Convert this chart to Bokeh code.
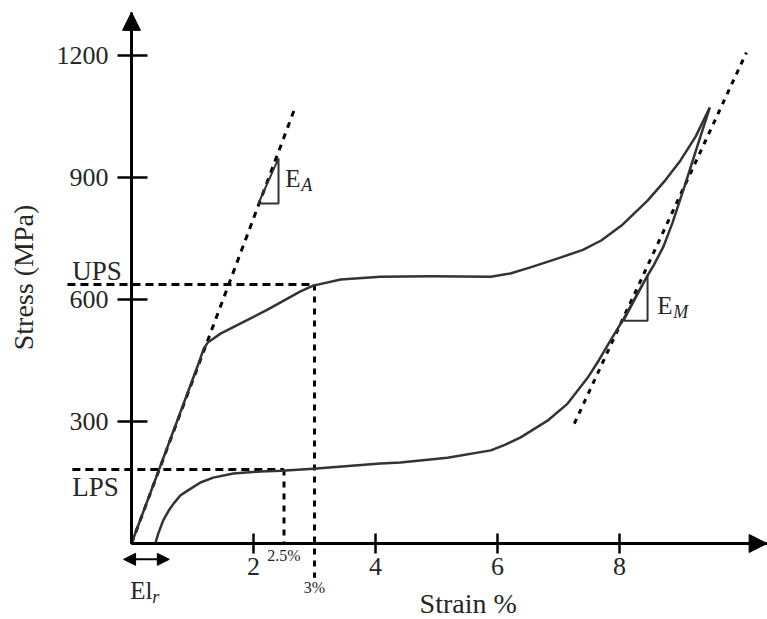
from bokeh.plotting import figure
from bokeh.models import LinearAxis, FixedTicker, Arrow, NormalHead, Range1d, Label
from bokeh.embed import file_html
from bokeh.resources import INLINE

# ---- data (strain %, stress MPa) ----
load_strain = [0.0, 1.13, 1.18, 1.25, 1.46, 1.79, 2.23, 2.77, 2.98, 3.43, 4.08, 4.9, 5.89,
               6.21, 6.54, 7.03, 7.4, 7.7, 8.05, 8.46, 8.75, 9.0, 9.25, 9.48]
load_stress = [0, 455, 478, 494, 516, 541, 575, 620, 634, 649, 656, 657, 656,
               664, 679, 703, 722, 745, 784, 843, 893, 942, 1001, 1072]

unload_strain = [9.48, 9.28, 9.07, 8.87, 8.72, 8.56, 8.46, 8.26, 8.07, 7.85, 7.66, 7.48, 7.15,
                 6.82, 6.38, 6.13, 5.89, 5.18, 4.41, 4.08, 2.98, 2.46, 2.11, 1.67, 1.34, 1.13,
                 0.92, 0.8, 0.69, 0.61, 0.52, 0.44, 0.39]
unload_stress = [1072, 979, 880, 789, 730, 684, 659, 605, 553, 499, 450, 408, 344,
                 302, 261, 243, 229, 211, 199, 197, 184, 179, 177, 172, 162, 150,
                 130, 118, 98, 81, 57, 25, 0]

x_ticks = [2, 4, 6, 8]
y_ticks = [300, 600, 900, 1200]

UPS = 637
LPS = 182
strain_25 = 2.5
strain_3 = 3.0

EA_line_x = [0.0, 2.69]
EA_line_y = [0, 1075]
EA_tri_x = [2.08, 2.41, 2.41, 2.08]
EA_tri_y = [836, 947, 836, 836]

EM_line_x = [7.26, 10.08]
EM_line_y = [295, 1207]
EM_tri_x = [8.07, 8.46, 8.46, 8.07]
EM_tri_y = [548, 659, 548, 548]

x_axis_end = 10.42
y_axis_end = 1306
elr_start, elr_end, elr_y = -0.13, 0.62, -39

FONT = "Liberation Serif"
TXT = "#262626"

p = figure(width=767, height=619, output_backend="svg", toolbar_location=None,
           x_range=Range1d(-131 / 61, (767 - 131) / 61),
           y_range=Range1d((543 - 619) / 0.4067, 543 / 0.4067),
           x_axis_location=None, y_axis_location=None,
           min_border=0, min_border_left=0, min_border_right=0,
           min_border_top=0, min_border_bottom=0)
p.outline_line_color = None
p.grid.visible = False
p.background_fill_color = "white"
p.border_fill_color = "white"

# axes crossing at the origin
xa = LinearAxis(fixed_location=0, ticker=FixedTicker(ticks=x_ticks), bounds=(0, x_axis_end))
ya = LinearAxis(fixed_location=0, ticker=FixedTicker(ticks=y_ticks), bounds=(0, y_axis_end))
for ax in (xa, ya):
    ax.axis_line_width = 3
    ax.axis_line_color = "black"
    ax.major_tick_line_width = 2.5
    ax.major_tick_line_color = "black"
    ax.minor_tick_line_color = None
    ax.major_label_text_font = FONT
    ax.major_label_text_font_size = "26px"
    ax.major_label_text_color = TXT
xa.major_tick_in = 10
xa.major_tick_out = 10
xa.major_label_standoff = 4
ya.major_tick_in = 16
ya.major_tick_out = 14
ya.major_label_standoff = 9
p.add_layout(xa, "below")
p.add_layout(ya, "left")

p.add_layout(Arrow(end=NormalHead(size=18, fill_color="black", line_color="black"),
                   x_start=0, y_start=0, x_end=0, y_end=y_axis_end, line_width=3, line_color="black"))
p.add_layout(Arrow(end=NormalHead(size=18, fill_color="black", line_color="black"),
                   x_start=0, y_start=0, x_end=x_axis_end, y_end=0, line_width=3, line_color="black"))

# dashed guide lines
p.line([-1.05, strain_3], [UPS, UPS], line_color="black", line_width=3, line_dash="8 5")
p.line([-0.97, strain_25], [LPS, LPS], line_color="black", line_width=3, line_dash="8 5")
p.line([strain_25, strain_25], [LPS, 0], line_color="black", line_width=3, line_dash="6 6")
p.line([strain_3, strain_3], [UPS, -84], line_color="black", line_width=3, line_dash="6 6")
p.line(EA_line_x, EA_line_y, line_color="black", line_width=3, line_dash="6 6")
p.line(EM_line_x, EM_line_y, line_color="black", line_width=3, line_dash="5 6")

# curves
p.line(load_strain, load_stress, line_color="#333333", line_width=2.5, line_join="round")
p.line(unload_strain, unload_stress, line_color="#333333", line_width=2.5, line_join="round")

# slope triangles
p.line(EA_tri_x, EA_tri_y, line_color="#333333", line_width=2)
p.line(EM_tri_x, EM_tri_y, line_color="#333333", line_width=2)

# El_r double arrow
p.add_layout(Arrow(start=NormalHead(size=12, fill_color="black", line_color="black"),
                   end=NormalHead(size=12, fill_color="black", line_color="black"),
                   x_start=elr_start, y_start=elr_y, x_end=elr_end, y_end=elr_y,
                   line_width=2, line_color="black"))

def lab(x, y, t, size="26px", align="left", base="middle", angle=0, style="normal", xo=0, yo=0):
    p.add_layout(Label(x=x, y=y, text=t, text_font=FONT, text_font_size=size, text_color=TXT,
                       text_align=align, text_baseline=base, angle=angle, text_font_style=style,
                       x_offset=xo, y_offset=yo))

lab(-1.77, 654, "Stress (MPa)", size="28px", align="center", angle=1.5708)
lab(5.52, -148, "Strain %", size="28px", align="center")
lab(-0.97, 669, "UPS", size="27px")
lab(-0.97, 140, "LPS", size="27px")
lab(strain_25, -30, "2.5%", size="16px", align="center")
lab(strain_3, -108, "3%", size="16px", align="center")
lab(2.52, 897, "E", size="25px")
lab(2.52, 897, "A", size="18px", style="italic", xo=16, yo=-6)
lab(8.62, 585, "E", size="25px")
lab(8.62, 585, "M", size="18px", style="italic", xo=16, yo=-6)
lab(-0.02, -116, "El", size="25px")
lab(-0.02, -116, "r", size="18px", style="italic", xo=22, yo=-6)

open("out.html", "w").write(file_html(p, INLINE))
